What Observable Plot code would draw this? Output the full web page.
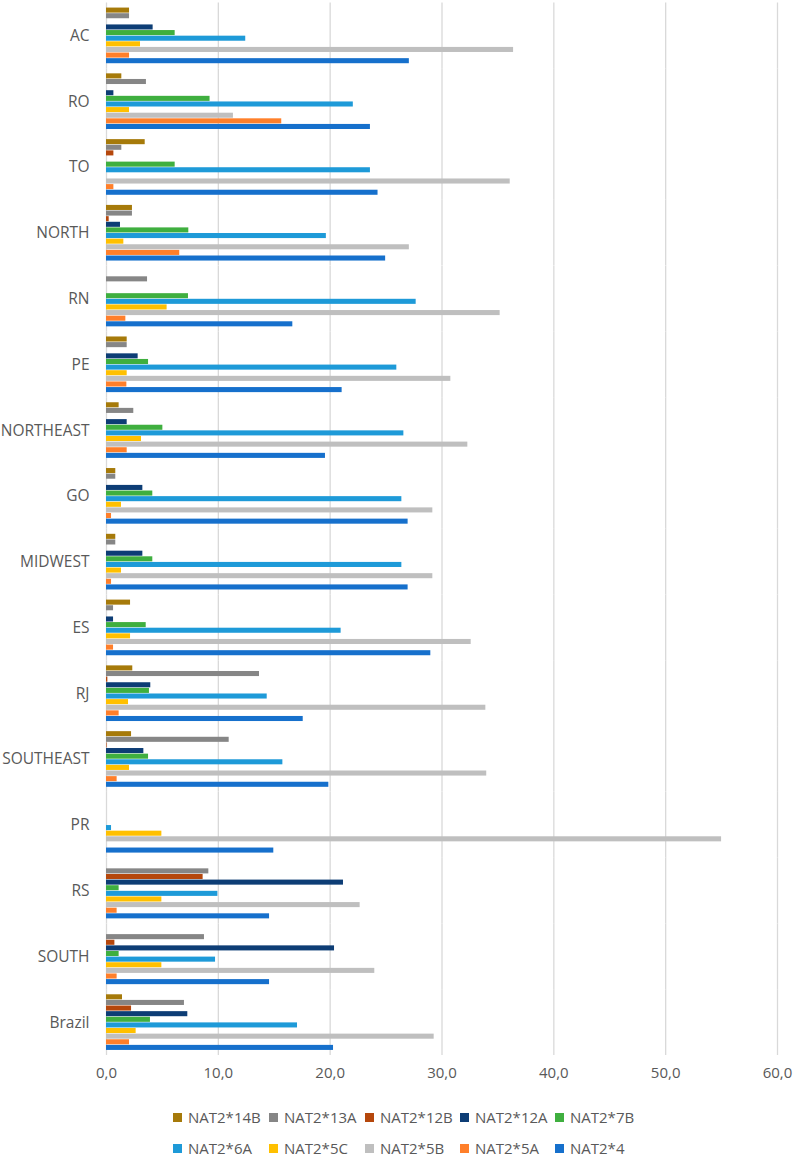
<!DOCTYPE html>
<html>
<head>
<meta charset="utf-8">
<script src="https://cdn.jsdelivr.net/npm/d3@7"></script>
<script src="https://cdn.jsdelivr.net/npm/@observablehq/plot@0.6"></script>
<style>
  html, body { margin: 0; padding: 0; background: #fff; }
  #chart { width: 796px; }
  #legend { position: relative; width: 796px; height: 62px; font-family: "Open Sans", sans-serif; font-size: 15px; color: #595959; }
  .row { position: absolute; left: 0; height: 20px; }
  .item { position: absolute; display: flex; align-items: center; white-space: nowrap; height: 20px; }
  .sw { width: 9px; height: 9px; margin-right: 6px; }
</style>
</head>
<body>
<div id="chart"></div>
<div id="legend"></div>
<script>
const categories = ["AC","RO","TO","NORTH","RN","PE","NORTHEAST","GO","MIDWEST","ES","RJ","SOUTHEAST","PR","RS","SOUTH","Brazil"];
const series = ["NAT2*14B","NAT2*13A","NAT2*12B","NAT2*12A","NAT2*7B","NAT2*6A","NAT2*5C","NAT2*5B","NAT2*5A","NAT2*4"];
const colors = ["#A67A0A","#868686","#B5470C","#0D3D75","#3FAF3F","#1E9AD8","#FFC000","#BFBFBF","#FF7F2A","#1670CC"];
const xTicks = [0, 10, 20, 30, 40, 50, 60];

const v14B = [2.06,1.37,3.46,2.32,0,1.85,1.13,0.83,0.83,2.15,2.35,2.24,0,0,0,1.43];
const v13A = [2.06,3.57,1.37,2.32,3.67,1.85,2.44,0.83,0.83,0.63,13.68,10.97,0,9.15,8.76,6.97];
const v12B = [0,0,0.66,0.24,0,0,0,0,0,0,0.12,0.05,0,8.64,0.75,2.24];
const v12A = [4.17,0.66,0,1.25,0,2.83,1.85,3.25,3.25,0.63,3.96,3.34,0,21.19,20.39,7.27];
const v7B  = [6.14,9.26,6.14,7.36,7.33,3.76,5.04,4.14,4.14,3.55,3.84,3.76,0,1.13,1.13,3.93];
const v6A  = [12.45,22.07,23.6,19.66,27.69,25.96,26.59,26.41,26.41,20.98,14.37,15.77,0.45,9.96,9.75,17.08];
const v5C  = [3.04,2.06,0,1.55,5.42,1.85,3.13,1.34,1.34,2.15,1.97,2.06,4.95,4.95,4.95,2.65];
const v5B  = [36.4,11.35,36.1,27.08,35.2,30.79,32.31,29.18,29.18,32.61,33.92,34.0,55.0,22.68,23.99,29.3];
const v5A  = [2.06,15.67,0.66,6.55,1.73,1.82,1.85,0.45,0.45,0.63,1.13,0.95,0,0.95,0.95,2.06];
const v4   = [27.08,23.6,24.28,24.96,16.66,21.07,19.58,26.97,26.97,29.0,17.59,19.88,14.96,14.58,14.58,20.3];

const valuesBySeries = [v14B, v13A, v12B, v12A, v7B, v6A, v5C, v5B, v5A, v4];
const data = [];
categories.forEach((c, ci) => {
  series.forEach((s, si) => {
    data.push({category: c, series: s, value: valuesBySeries[si][ci]});
  });
});

const fmt = d => d.toFixed(1).replace(".", ",");

const chart = Plot.plot({
  width: 796,
  height: 1095,
  marginTop: 2.5,
  marginBottom: 40,
  marginLeft: 106,
  marginRight: 19,
  style: {fontFamily: "'Open Sans', sans-serif", color: "#595959", background: "#fff"},
  x: {domain: [0, 60]},
  fy: {domain: categories, paddingInner: 0.154, paddingOuter: 0.077, round: false, label: null},
  y: {domain: series, paddingInner: 0.1, paddingOuter: 0, round: false, axis: null},
  color: {domain: series, range: colors},
  marks: [
    Plot.ruleX(xTicks, {stroke: "#D9D9D9", strokeWidth: 1.3, insetTop: -5.06, insetBottom: -5.06}),
    Plot.barX(data, {fy: "category", y: "series", x: "value", fill: "series"}),
    Plot.axisX({ticks: xTicks, tickFormat: fmt, tickSize: 0, tickPadding: 17, fontSize: 15, fill: "#595959", label: null}),
    Plot.axisFy({anchor: "left", tickSize: 0, tickPadding: 17, fontSize: 15.5, fill: "#595959", label: null})
  ]
});
document.getElementById("chart").appendChild(chart);

// Legend (HTML, below the SVG)
const legend = document.getElementById("legend");
const colX = [173, 269, 365, 460, 555];
const rowY = [12, 43];
series.forEach((s, i) => {
  const r = Math.floor(i / 5), c = i % 5;
  const item = document.createElement("div");
  item.className = "item";
  item.style.left = colX[c] + "px";
  item.style.top = rowY[r] + "px";
  const sw = document.createElement("span");
  sw.className = "sw";
  sw.style.background = colors[i];
  const t = document.createElement("span");
  t.textContent = s;
  item.appendChild(sw);
  item.appendChild(t);
  legend.appendChild(item);
});
</script>
</body>
</html>
